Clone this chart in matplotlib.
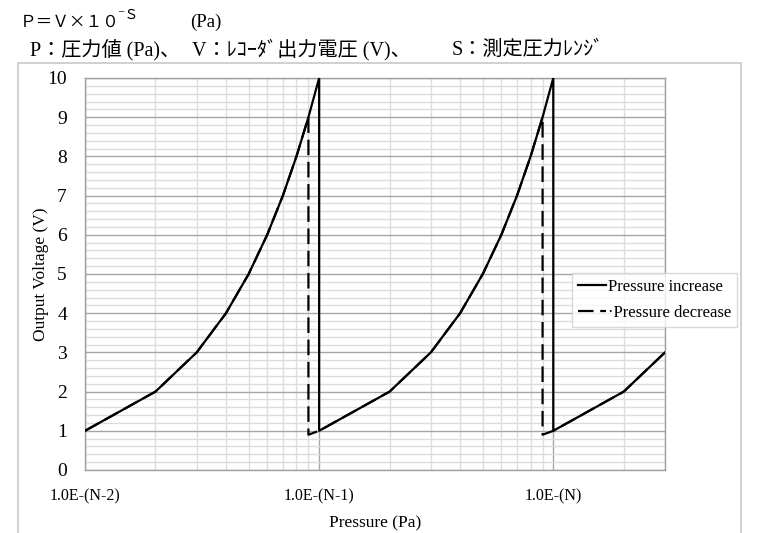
import matplotlib
matplotlib.use("Agg")
import matplotlib.pyplot as plt
from matplotlib.patches import Rectangle
from matplotlib.ticker import FixedLocator, FixedFormatter, MultipleLocator

# pressure in units of 1.0E-(N-2); voltage in V
inc_p = [1, 2, 3, 4, 5, 6, 7, 8, 9, 10, 10, 20, 30, 40, 50, 60, 70, 80, 90, 100, 100, 200, 300]
inc_v = [1, 2, 3, 4, 5, 6, 7, 8, 9, 10, 1, 2, 3, 4, 5, 6, 7, 8, 9, 10, 1, 2, 3]
dec_p = [1, 2, 3, 4, 5, 6, 7, 8, 9, 9, 10, 20, 30, 40, 50, 60, 70, 80, 90, 90, 100, 200, 300]
dec_v = [1, 2, 3, 4, 5, 6, 7, 8, 9, 0.9, 1, 2, 3, 4, 5, 6, 7, 8, 9, 0.9, 1, 2, 3]

x_ticks = [1, 10, 100]
x_labels = ["1.0E-(N-2)", "1.0E-(N-1)", "1.0E-(N)"]

SERIF = ["Liberation Serif", "Noto Sans CJK JP"]
GOTHIC = ["Noto Sans CJK JP", "DejaVu Sans"]

fig = plt.figure(figsize=(7.58, 5.33), dpi=100)
W, H = 758, 533

# outer chart frame
fig.patches.append(Rectangle((18 / W, -0.05), (741 - 18) / W, 1.05 - 63 / H,
                             transform=fig.transFigure, fill=False,
                             edgecolor="#c8c8c8", linewidth=1.2))

ax = fig.add_axes([85 / W, 1 - 470 / H, (665 - 85) / W, (470 - 78) / H])
ax.set_xscale("log")
ax.set_xlim(1, 300)
ax.set_ylim(0, 10)

ax.plot(dec_p, dec_v, color="black", linewidth=1.6, dashes=(7, 3), label="\u00b7Pressure decrease", zorder=3)
ax.plot(inc_p, inc_v, color="black", linewidth=1.6, label="Pressure increase", zorder=4)

ax.xaxis.set_major_locator(FixedLocator(x_ticks))
ax.xaxis.set_major_formatter(FixedFormatter(x_labels))
ax.xaxis.set_minor_locator(FixedLocator([m * d for d in x_ticks for m in range(2, 10)]))
ax.xaxis.set_minor_formatter(FixedFormatter([]))
ax.yaxis.set_major_locator(MultipleLocator(1))
ax.yaxis.set_minor_locator(MultipleLocator(0.2))

ax.grid(True, which="major", color="#a6a6a6", linewidth=1.0)
ax.grid(True, which="minor", color="#dcdcdc", linewidth=1.0)
ax.set_axisbelow(True)
for s in ax.spines.values():
    s.set_color("#a0a0a0")
    s.set_linewidth(1.0)

ax.tick_params(which="both", length=0)
ax.tick_params(axis="x", pad=13, labelsize=11.5)
ax.tick_params(axis="y", pad=13, labelsize=14)
for t in ax.get_xticklabels() + ax.get_yticklabels():
    t.set_family(SERIF)

ax.set_xlabel("Pressure (Pa)", family=SERIF, fontsize=12.5, labelpad=8)
ax.set_ylabel("Output Voltage (V)", family=SERIF, fontsize=12.5)
ax.yaxis.set_label_coords((49 - 85) / 580, 0.5)

handles, labels = ax.get_legend_handles_labels()
leg = fig.legend(handles[::-1], labels[::-1], loc="upper left",
                 bbox_to_anchor=(572 / W, 1 - 273 / H), prop={"family": SERIF, "size": 12},
                 frameon=True, fancybox=False, handlelength=1.7, handletextpad=0.1,
                 borderpad=0.35, labelspacing=0.6, borderaxespad=0)
leg.get_frame().set_edgecolor("#d0d0d0")
leg.get_frame().set_linewidth(1.0)

# formula header
fig.text(20 / W, 1 - 27 / H, "Ｐ＝Ｖ\u00d7１０", family=GOTHIC, fontsize=12)
fig.text(117 / W, 1 - 19 / H, "\u207bＳ", family=GOTHIC, fontsize=10)
fig.text(190 / W, 1 - 27 / H, "(Pa)", family=SERIF, fontsize=13.5)

line2 = ["P：圧力値 (Pa)、", "V：ﾚｺｰﾀﾞ出力電圧 (V)、", "S：測定圧力ﾚﾝｼﾞ"]
line2_x = [30, 192, 452]
for s, x in zip(line2, line2_x):
    fig.text(x / W, 1 - 55 / H, s, family=SERIF, fontsize=14.5)

fig.savefig("out.png", dpi=100)
